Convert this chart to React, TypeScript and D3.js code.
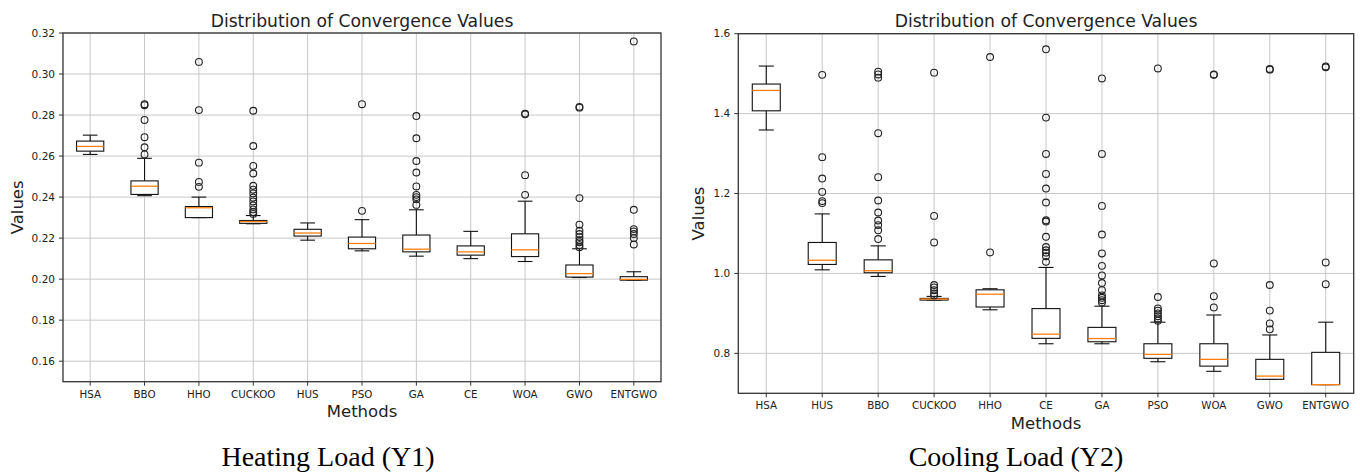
import React from "react";
import { scaleLinear, scalePoint, format, range } from "d3";

// ---- Heating Load (Y1) ----
const heatMethods = ["HSA", "BBO", "HHO", "CUCKOO", "HUS", "PSO", "GA", "CE", "WOA", "GWO", "ENTGWO"];
const heatWhiskerLow = [0.2608, 0.2407, 0.2300, 0.2270, 0.2190, 0.2138, 0.2112, 0.2100, 0.2086, 0.2008, 0.1995];
const heatQ1 = [0.2624, 0.2413, 0.2300, 0.2272, 0.2210, 0.2148, 0.2133, 0.2117, 0.2110, 0.2010, 0.1995];
const heatMedian = [0.2647, 0.2453, 0.2348, 0.2281, 0.2225, 0.2174, 0.2146, 0.2133, 0.2143, 0.2027, 0.1999];
const heatQ3 = [0.2673, 0.2479, 0.2354, 0.2286, 0.2243, 0.2205, 0.2215, 0.2162, 0.2221, 0.2069, 0.2012];
const heatWhiskerHigh = [0.2702, 0.2589, 0.2400, 0.2310, 0.2274, 0.2290, 0.2338, 0.2233, 0.2380, 0.2148, 0.2036];
const heatOutliers = [
  [],
  [0.2853, 0.2848, 0.2776, 0.2692, 0.2643, 0.2608],
  [0.3059, 0.2824, 0.2568, 0.2474, 0.2450],
  [0.2821, 0.2649, 0.2552, 0.2515, 0.2455, 0.2436, 0.2418, 0.2397, 0.2379, 0.2360, 0.2340, 0.2327, 0.2318],
  [],
  [0.2853, 0.2333],
  [0.2795, 0.2687, 0.2576, 0.2520, 0.2452, 0.2411, 0.2400, 0.2389, 0.2362],
  [],
  [0.2807, 0.2804, 0.2507, 0.2411],
  [0.2840, 0.2836, 0.2395, 0.2266, 0.2236, 0.2220, 0.2205, 0.2190, 0.2180, 0.2166, 0.2155],
  [0.3159, 0.2338, 0.2244, 0.2233, 0.2220, 0.2200, 0.2169],
];
const heatTicks = range(0.16, 0.3201, 0.02);

// ---- Cooling Load (Y2) ----
const coolMethods = ["HSA", "HUS", "BBO", "CUCKOO", "HHO", "CE", "GA", "PSO", "WOA", "GWO", "ENTGWO"];
const coolWhiskerLow = [1.359, 1.009, 0.9925, 0.9333, 0.909, 0.824, 0.824, 0.779, 0.755, 0.735, 0.7217];
const coolQ1 = [1.407, 1.0225, 1.0017, 0.9333, 0.916, 0.8375, 0.829, 0.7875, 0.768, 0.735, 0.7217];
const coolMedian = [1.458, 1.033, 1.0067, 0.936, 0.948, 0.848, 0.837, 0.7975, 0.785, 0.743, 0.7217];
const coolQ3 = [1.474, 1.0775, 1.034, 0.9375, 0.959, 0.912, 0.865, 0.824, 0.824, 0.785, 0.8025];
const coolWhiskerHigh = [1.519, 1.149, 1.069, 0.9425, 0.9617, 1.015, 0.918, 0.878, 0.896, 0.846, 0.878];
const coolOutliers = [
  [],
  [1.497, 1.291, 1.2375, 1.204, 1.181, 1.176],
  [1.505, 1.498, 1.49, 1.351, 1.241, 1.1825, 1.1525, 1.1325, 1.121, 1.108, 1.086],
  [1.5025, 1.144, 1.0775, 0.971, 0.965, 0.958, 0.95, 0.945],
  [1.5417, 1.0525],
  [1.561, 1.39, 1.299, 1.249, 1.2125, 1.1775, 1.133, 1.13, 1.0917, 1.066, 1.058, 1.052, 1.043, 1.029],
  [1.488, 1.299, 1.169, 1.0975, 1.05, 1.019, 0.995, 0.976, 0.958, 0.945, 0.939, 0.933, 0.927],
  [1.513, 0.941, 0.9125, 0.907, 0.9, 0.893, 0.8875, 0.8817],
  [1.498, 1.497, 1.025, 0.943, 0.915],
  [1.5117, 1.51, 0.971, 0.907, 0.875, 0.86],
  [1.518, 1.516, 1.0275, 0.973],
];
const coolTicks = [0.8, 1.0, 1.2, 1.4, 1.6];

const FONT = "'DejaVu Sans', sans-serif";
const GRID = "#c8c8c8";
const SPINE = "#333";

type PanelProps = {
  x0: number; x1: number; y0: number; y1: number;
  domain: [number, number];
  ticks: number[]; fmt: string;
  methods: string[];
  wLo: number[]; q1: number[]; med: number[]; q3: number[]; wHi: number[];
  outliers: number[][];
  caption: string; captionX: number; ylabOffset: number;
};

const Panel = (p: PanelProps) => {
  const xScale = scalePoint<string>().domain(p.methods).range([p.x0, p.x1]).padding(0.5);
  const yScale = scaleLinear().domain(p.domain).range([p.y1, p.y0]);
  const step = xScale.step();
  const boxW = step * 0.5;
  const capW = step * 0.27;
  const f = format(p.fmt);
  const cx = (p.x0 + p.x1) / 2;
  const cy = (p.y0 + p.y1) / 2;

  return (
    <g>
      {/* grid */}
      {p.ticks.map((t, i) => (
        <line key={"gy" + i} x1={p.x0} x2={p.x1} y1={yScale(t)} y2={yScale(t)} stroke={GRID} strokeWidth={1} />
      ))}
      {p.methods.map((m, i) => (
        <line key={"gx" + i} x1={xScale(m)} x2={xScale(m)} y1={p.y0} y2={p.y1} stroke={GRID} strokeWidth={1} />
      ))}

      {/* boxes */}
      {p.methods.map((m, i) => {
        const x = xScale(m) as number;
        return (
          <g key={"b" + i} stroke="#111" strokeWidth={1.1} fill="none">
            <line x1={x} x2={x} y1={yScale(p.q3[i])} y2={yScale(p.wHi[i])} />
            <line x1={x} x2={x} y1={yScale(p.q1[i])} y2={yScale(p.wLo[i])} />
            <line x1={x - capW / 2} x2={x + capW / 2} y1={yScale(p.wHi[i])} y2={yScale(p.wHi[i])} />
            <line x1={x - capW / 2} x2={x + capW / 2} y1={yScale(p.wLo[i])} y2={yScale(p.wLo[i])} />
            <rect x={x - boxW / 2} width={boxW} y={yScale(p.q3[i])}
              height={Math.max(0.5, yScale(p.q1[i]) - yScale(p.q3[i]))} fill="white" />
            <line x1={x - boxW / 2} x2={x + boxW / 2} y1={yScale(p.med[i])} y2={yScale(p.med[i])}
              stroke="#ff7f0e" strokeWidth={1.3} />
            {p.outliers[i].map((o, j) => (
              <circle key={j} cx={x} cy={yScale(o)} r={3.4} stroke="#222" strokeWidth={1.1} />
            ))}
          </g>
        );
      })}

      {/* spines */}
      <rect x={p.x0} y={p.y0} width={p.x1 - p.x0} height={p.y1 - p.y0} fill="none" stroke={SPINE} strokeWidth={1.3} />

      {/* y ticks */}
      {p.ticks.map((t, i) => (
        <g key={"ty" + i} transform={`translate(${p.x0}, ${yScale(t)})`}>
          <line x1={-4} x2={0} stroke={SPINE} />
          <text x={-8} dy="0.35em" textAnchor="end" fontSize={10.5} fontFamily={FONT} fill="#222">{f(t)}</text>
        </g>
      ))}
      {/* x ticks */}
      {p.methods.map((m, i) => (
        <g key={"tx" + i} transform={`translate(${xScale(m)}, ${p.y1})`}>
          <line y1={0} y2={4} stroke={SPINE} />
          <text y={16} textAnchor="middle" fontSize={10.3} fontFamily={FONT} fill="#222">{m}</text>
        </g>
      ))}

      <text x={cx} y={26.5} textAnchor="middle" fontSize={17.2} fontFamily={FONT} fill="#222">
        Distribution of Convergence Values
      </text>
      <text x={cx} y={p.y1 + 35.5} textAnchor="middle" fontSize={16.5} fontFamily={FONT} fill="#222">Methods</text>
      <text transform={`translate(${p.x0 - p.ylabOffset}, ${cy}) rotate(-90)`} textAnchor="middle" fontSize={16.5}
        fontFamily={FONT} fill="#222">Values</text>
      <text x={p.captionX} y={466} textAnchor="middle" fontSize={28}
        fontFamily="'Liberation Serif', 'Times New Roman', serif" fill="#000">{p.caption}</text>
    </g>
  );
};

export default function App() {
  return (
    <svg width={1360} height={473} style={{ position: "absolute", left: 0, top: 0, background: "white" }}>
      <Panel x0={63} x1={661} y0={33} y1={381.7} domain={[0.15, 0.32]} ticks={heatTicks} fmt=".2f"
        methods={heatMethods} wLo={heatWhiskerLow} q1={heatQ1} med={heatMedian} q3={heatQ3} wHi={heatWhiskerHigh}
        outliers={heatOutliers} caption="Heating Load (Y1)" captionX={328} ylabOffset={40} />
      <Panel x0={738.3} x1={1353.7} y0={33.7} y1={393.3} domain={[0.7, 1.6]} ticks={coolTicks} fmt=".1f"
        methods={coolMethods} wLo={coolWhiskerLow} q1={coolQ1} med={coolMedian} q3={coolQ3} wHi={coolWhiskerHigh}
        outliers={coolOutliers} caption="Cooling Load (Y2)" captionX={1016} ylabOffset={34.5} />
    </svg>
  );
}
